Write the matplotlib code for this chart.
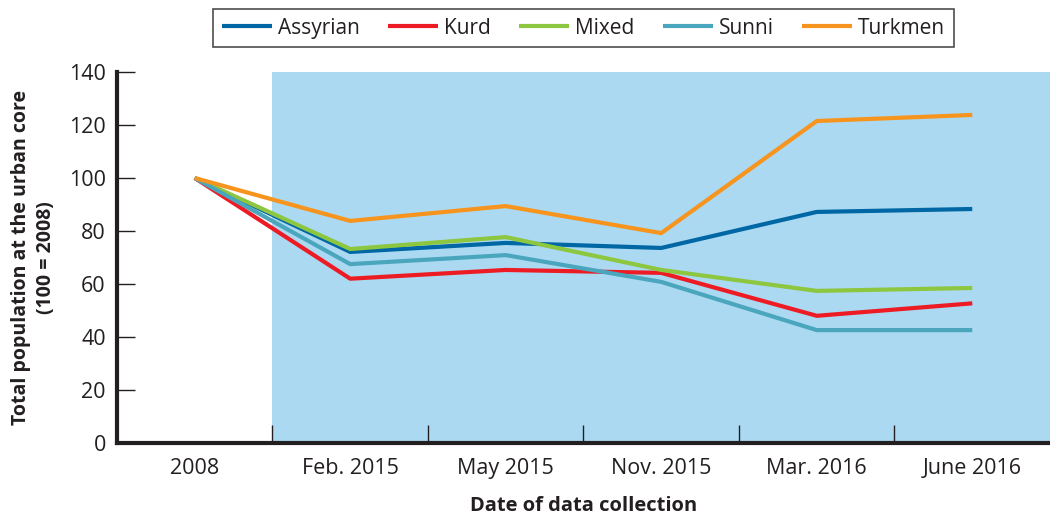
import matplotlib
matplotlib.use('Agg')
import matplotlib.pyplot as plt

plt.rcParams['font.family'] = ['Open Sans', 'DejaVu Sans']

dates = ['2008', 'Feb. 2015', 'May 2015', 'Nov. 2015', 'Mar. 2016', 'June 2016']
assyrian = [100, 72.1, 75.5, 73.6, 87.2, 88.3]
kurd = [100, 62.0, 65.3, 64.2, 48.0, 52.7]
mixed = [100, 73.2, 77.7, 65.3, 57.4, 58.5]
sunni = [100, 67.5, 70.9, 60.8, 42.6, 42.6]
turkmen = [100, 83.8, 89.4, 79.2, 121.5, 123.8]

series = [('Assyrian', assyrian, '#0067a5'),
          ('Kurd', kurd, '#ed1c24'),
          ('Mixed', mixed, '#8dc63f'),
          ('Sunni', sunni, '#4aa6bd'),
          ('Turkmen', turkmen, '#f7941d')]

fig = plt.figure(figsize=(10.5, 5.15), dpi=100)
ax = fig.add_axes([0.1114, 0.1398, 0.8886, 0.7204])

x = list(range(len(dates)))
# shaded period after 2008
ax.axvspan(0.5, len(dates) - 0.5, color='#abd9f2', lw=0, zorder=0)

for name, vals, col in series:
    ax.plot(x, vals, color=col, lw=3, label=name, solid_capstyle='butt', zorder=3)

ax.set_xlim(-0.5, len(dates) - 0.5)
ax.set_ylim(0, 140)
ax.set_yticks(range(0, 141, 20))
ax.set_xticks(x)
ax.set_xticklabels(dates)
ax.set_xticks([i + 0.5 for i in range(len(dates) - 1)], minor=True)
ax.tick_params(axis='x', which='major', length=0, pad=11, labelsize=15.5, colors='#231f20')
ax.tick_params(axis='x', which='minor', direction='in', length=13, width=1, color='#231f20')
ax.tick_params(axis='y', direction='in', length=13, width=1, labelsize=15.5, pad=8, colors='#231f20')

for s in ['top', 'right']:
    ax.spines[s].set_visible(False)
for s in ['left', 'bottom']:
    ax.spines[s].set_linewidth(3)
    ax.spines[s].set_color('#231f20')

ax.set_xlabel('Date of data collection', fontsize=14.5, fontweight='bold', labelpad=12, color='#231f20')
ax.set_ylabel('Total population at the urban core\n(100 = 2008)', fontsize=14,
              fontweight='bold', labelpad=9, color='#231f20', linespacing=1.35)

leg = fig.legend(loc='upper center', bbox_to_anchor=(0.5557, 0.982), ncol=5, frameon=True,
                 fontsize=15, fancybox=False, edgecolor='#231f20', handlelength=2.4,
                 columnspacing=1.35, borderpad=0.4, handletextpad=0.3, borderaxespad=0)
leg.get_frame().set_linewidth(1.2)
for t in leg.get_texts():
    t.set_color('#231f20')

fig.savefig('out.png', dpi=100)
